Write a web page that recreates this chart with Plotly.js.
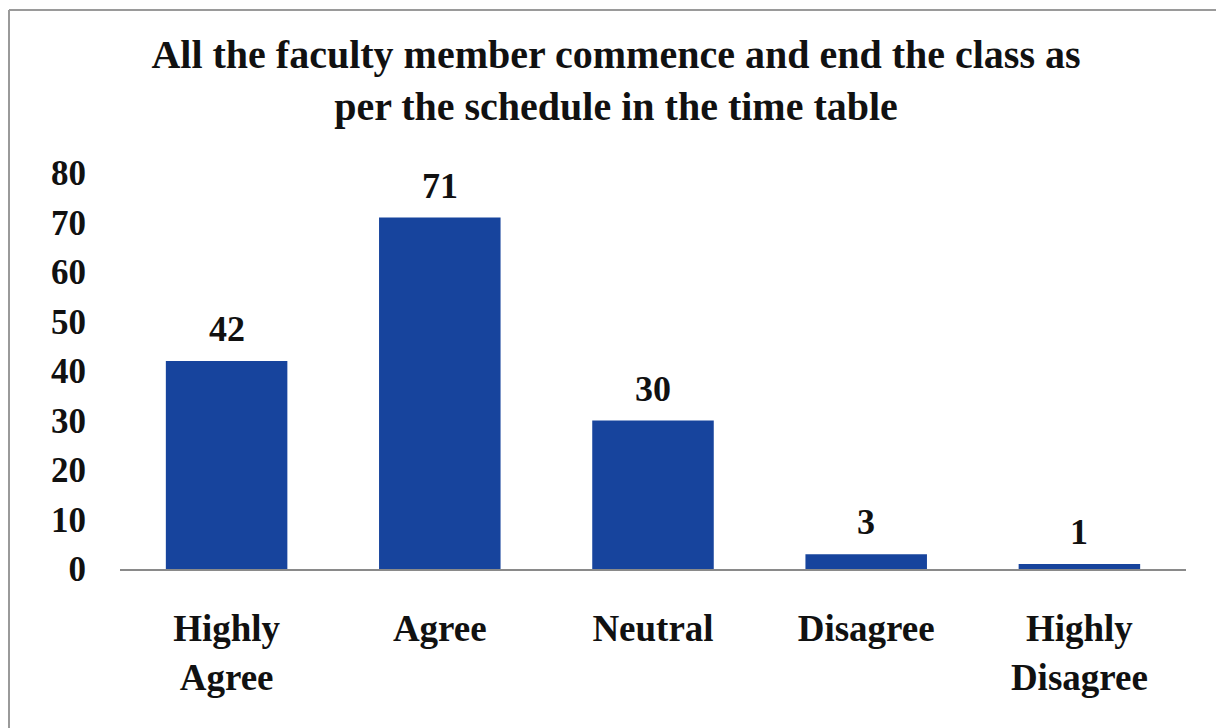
<!DOCTYPE html>
<html>
<head>
<meta charset="utf-8">
<script src="https://cdn.plot.ly/plotly-3.0.1.min.js"></script>
<style>html,body{margin:0;padding:0;background:#fff;}#chart{width:1218px;height:728px;}</style>
</head>
<body>
<div id="chart"></div>
<script>
var categories = ["Highly<br>Agree", "Agree", "Neutral", "Disagree", "Highly<br>Disagree"];
var values = [42, 71, 30, 3, 1];
var yTicks = [0, 10, 20, 30, 40, 50, 60, 70, 80];
var titleText = "All the faculty member commence and end the class as<br>per the schedule in the time table";

var serif = "Liberation Serif, Times New Roman, serif";
var trace = {
  type: "bar",
  x: categories,
  y: values,
  cliponaxis: false,
  marker: {color: "#17449d", line: {width: 0}},
  width: 0.57,
  hoverinfo: "none"
};
var labels = categories.map(function (c, i) {
  return {
    x: c, y: values[i], xref: "x", yref: "y",
    text: String(values[i]), showarrow: false,
    yanchor: "bottom", yshift: 10,
    font: {family: serif, size: 36, color: "#111", weight: "bold"}
  };
});
var layout = {
  width: 1218, height: 728,
  paper_bgcolor: "#fff", plot_bgcolor: "#fff",
  margin: {l: 120, r: 32, t: 173, b: 159},
  showlegend: false,
  title: {
    text: titleText,
    font: {family: serif, size: 40, color: "#111", weight: "bold"},
    x: (616 - 120) / 1066, xanchor: "center", xref: "paper",
    y: 1 - 68 / 728, yanchor: "middle", yref: "container"
  },
  xaxis: {
    showline: true, linecolor: "#8a8a8a", linewidth: 2,
    showgrid: false, zeroline: false, ticks: "",
    tickfont: {family: serif, size: 37, color: "#111", weight: "bold"},
    ticklabelstandoff: 26
  },
  yaxis: {
    range: [0, 80], tickvals: yTicks, showgrid: false, zeroline: false, showline: false,
    tickfont: {family: serif, size: 35, color: "#111", weight: "bold"},
    ticklabelstandoff: 33
  },
  annotations: labels,
  shapes: [
    {type: "line", xref: "paper", yref: "paper", x0: (9-120)/1066, x1: (1216-120)/1066, y0: (569-10)/396, y1: (569-10)/396, line: {color: "#9a9a9a", width: 2}},
    {type: "line", xref: "paper", yref: "paper", x0: (9-120)/1066, x1: (9-120)/1066, y0: (569-10)/396, y1: (569-728)/396, line: {color: "#9a9a9a", width: 2}}
  ],
  font: {family: serif}
};
Plotly.newPlot("chart", [trace], layout, {displayModeBar: false, staticPlot: true});
</script>
</body>
</html>
